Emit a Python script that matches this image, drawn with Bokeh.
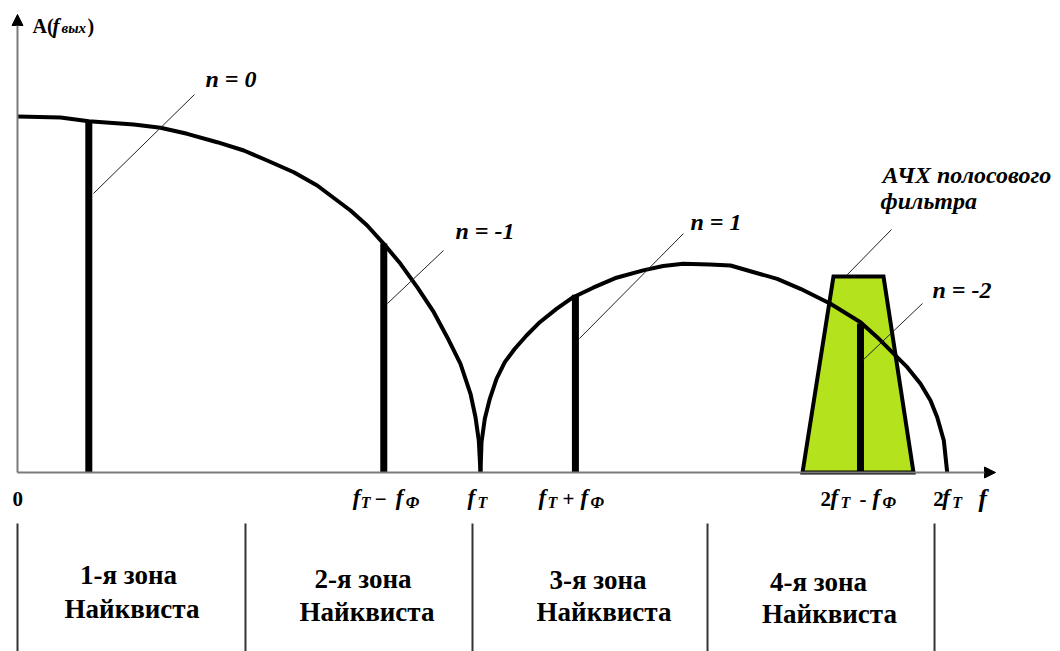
from bokeh.plotting import figure
from bokeh.models import ColumnDataSource, Range1d, Arrow, NormalHead
from bokeh.core.properties import value
from bokeh.embed import file_html
from bokeh.resources import INLINE

# ---------------- data (x in units of fT, y = relative amplitude) ----------------
lobe1_x = [0.0, 0.0929, 0.1540, 0.2512, 0.3089, 0.3665, 0.4313, 0.4888, 0.5393, 0.5968,
           0.6473, 0.7192, 0.7553, 0.7911, 0.8272, 0.8633, 0.8991, 0.9281, 0.9568,
           0.9784, 0.9892, 0.9963, 1.0]
lobe1_y = [1.0, 0.997, 0.9868, 0.9775, 0.9683, 0.9514, 0.9278, 0.9045, 0.8764, 0.8435,
           0.8062, 0.7360, 0.6938, 0.6424, 0.5862, 0.5205, 0.4503, 0.3801, 0.3053,
           0.2211, 0.1553, 0.0899, 0.0]
lobe2_x = [1.0, 1.0022, 1.0093, 1.0201, 1.0346, 1.0525, 1.0741, 1.0994, 1.1281, 1.1641,
           1.2002, 1.2434, 1.2937, 1.3514, 1.3946, 1.4378, 1.4952, 1.5400, 1.5903,
           1.6408, 1.6911, 1.7559, 1.8207, 1.8568, 1.8927, 1.9216, 1.9503, 1.9719,
           1.9864, 2.0007, 2.0080]
lobe2_y = [0.0, 0.0851, 0.1508, 0.2070, 0.2632, 0.3101, 0.3475, 0.3848, 0.4222, 0.4596,
           0.4924, 0.5191, 0.5472, 0.5677, 0.5800, 0.5865, 0.5846, 0.5815, 0.5626,
           0.5441, 0.5160, 0.4739, 0.4222, 0.3801, 0.3334, 0.2958, 0.2492, 0.2022,
           0.1553, 0.0899, 0.0]

bar_x = [0.1540, 0.7911, 1.2050, 1.8207]
bar_top = [0.9868, 0.6430, 0.4992, 0.4185]

filter_x = [1.6955, 1.7624, 1.8704, 1.9352]
filter_y = [0.0, 0.5506, 0.5506, 0.0]

# leader lines (from mark to label)
lead_x0 = [0.1641, 0.7991, 1.2138, 1.7905, 1.8251]
lead_y0 = [0.7837, 0.4747, 0.3764, 0.5534, 0.3146]
lead_x1 = [0.3823, 0.9201, 1.4384, 1.8877, 1.9546]
lead_y1 = [1.0618, 0.6236, 0.6713, 0.6826, 0.4747]

ann_text = ["n = 0", "n = -1", "n = 1", "АЧХ полосового", "фильтра", "n = -2"]
ann_x = [0.4060, 0.9460, 1.4536, 1.8683, 1.8640, 1.9762]
ann_y = [1.0843, 0.6573, 0.6826, 0.8146, 0.7416, 0.4916]

# tick labels, built from pieces: (text, kind, pixel offset from tick)
tick_x = [0.0, 0.7911, 1.0, 1.2050, 1.8207, 2.008]
tick_pieces = [
    [("0", "num", -5)],
    [("f", "f", -31), ("T", "sub", -23), ("−", "op", -9), ("f", "f", 12), ("Ф", "sub", 22)],
    [("f", "f", -13), ("T", "sub", -3)],
    [("f", "f", -37), ("T", "sub", -28), ("+", "op", -13), ("f", "f", 5), ("Ф", "sub", 15)],
    [("2", "num", -40), ("f", "f", -30), ("T", "sub", -20), ("-", "op", -1), ("f", "f", 12), ("Ф", "sub", 22)],
    [("2", "num", -14), ("f", "f", -5), ("T", "sub", 5)],
]
axis_name_x = 2.0756

zone_edges = [0.0, 0.4924, 0.9827, 1.4903, 1.9806]
zone_line1 = ["1-я зона", "2-я зона", "3-я зона", "4-я зона"]
zone_line2 = ["Найквиста", "Найквиста", "Найквиста", "Найквиста"]
zone_x1 = [0.2397, 0.7462, 1.2538, 1.7300]
zone_y1 = [-0.3118, -0.3230, -0.3258, -0.3315]
zone_x2 = [0.2473, 0.7549, 1.2667, 1.7538]
zone_y2 = [-0.4073, -0.4157, -0.4157, -0.4213]

FONT = value("Liberation Serif")
Y_PER_PX = 1.0 / 356.0


def lift(ys, size_px):
    """compensate the renderer's baseline placement (text sits ~0.33em low)"""
    return [y + 0.33 * size_px * Y_PER_PX for y in ys]


p = figure(width=1060, height=651,
           x_range=Range1d(-0.036717, 2.252700), y_range=Range1d(-0.502809, 1.325843),
           output_backend="svg", toolbar_location=None, min_border=0,
           x_axis_location=None, y_axis_location=None)
p.grid.visible = False
p.outline_line_color = None
p.background_fill_color = "white"
p.border_fill_color = "white"

# band-pass filter response
p.patch(filter_x, filter_y, fill_color="#b4e31d", line_color="black", line_width=4,
        line_join="miter")

# axes with arrows
p.add_layout(Arrow(x_start=0, y_start=0, x_end=0, y_end=1.2865, line_color="#7a7a7a",
                   line_width=2, end=NormalHead(size=11, fill_color="black", line_color="black")))
p.add_layout(Arrow(x_start=0, y_start=0, x_end=2.1123, y_end=0, line_color="#7a7a7a",
                   line_width=2, end=NormalHead(size=11, fill_color="black", line_color="black")))

# envelope
p.line(lobe1_x, lobe1_y, line_color="black", line_width=4, line_join="round")
p.line(lobe2_x, lobe2_y, line_color="black", line_width=4, line_join="round")

# spectral lines
p.segment(x0=bar_x, y0=[0] * len(bar_x), x1=bar_x, y1=bar_top, line_color="black",
          line_width=7, line_cap="butt")

# leader lines
p.segment(x0=lead_x0, y0=lead_y0, x1=lead_x1, y1=lead_y1, line_color="#222222", line_width=1)

p.text(x=ann_x, y=lift(ann_y, 24), text=ann_text, text_font=FONT, text_font_size="24px",
       text_font_style="bold italic", text_color="black", text_align="left",
       text_baseline="alphabetic")

# tick labels
it = dict(x=[], y=[], text=[], dx=[], size=[])
up = dict(x=[], y=[], text=[], dx=[], size=[])
for tx, pieces in zip(tick_x, tick_pieces):
    for txt, kind, dx in pieces:
        if kind == "f":
            d, y, s = it, -0.0927, 23
        elif kind == "sub":
            d, y, s = it, -0.0983, 16
        else:
            d, y, s = up, -0.0927, 21
        d["x"].append(tx); d["y"].append(lift([y], s)[0]); d["text"].append(txt)
        d["dx"].append(dx); d["size"].append(f"{s}px")
it["x"].append(axis_name_x); it["y"].append(lift([-0.0955], 25)[0]); it["text"].append("f")
it["dx"].append(0); it["size"].append("25px")

p.text(x="x", y="y", text="text", x_offset="dx", text_font_size="size",
       source=ColumnDataSource(it), text_font=FONT, text_font_style="bold italic",
       text_color="black", text_align="left", text_baseline="alphabetic")
p.text(x="x", y="y", text="text", x_offset="dx", text_font_size="size",
       source=ColumnDataSource(up), text_font=FONT, text_font_style="bold",
       text_color="black", text_align="left", text_baseline="alphabetic")

# y-axis title A(fвых)
ylab_text = ["A(", "f", "вых", ")"]
ylab_dx = [15, 35, 44, 70]
ylab_size = [20, 21, 15, 20]
ylab_style = ["bold", "bold italic", "bold italic", "bold"]
for style in ("bold", "bold italic"):
    sel = [i for i, s in enumerate(ylab_style) if s == style]
    src = ColumnDataSource(dict(
        x=[0] * len(sel),
        y=[lift([1.236], ylab_size[i])[0] for i in sel],
        text=[ylab_text[i] for i in sel],
        dx=[ylab_dx[i] for i in sel],
        size=[f"{ylab_size[i]}px" for i in sel]))
    p.text(x="x", y="y", text="text", x_offset="dx", text_font_size="size", source=src,
           text_font=FONT, text_font_style=style, text_color="black", text_align="left",
           text_baseline="alphabetic")

# Nyquist zones
p.segment(x0=zone_edges, y0=[-0.1433] * len(zone_edges), x1=zone_edges,
          y1=[-0.52] * len(zone_edges), line_color="#333333", line_width=2)
p.text(x=zone_x1, y=lift(zone_y1, 27), text=zone_line1, text_font=FONT, text_font_size="27px",
       text_font_style="bold", text_color="black", text_align="center",
       text_baseline="alphabetic")
p.text(x=zone_x2, y=lift(zone_y2, 27), text=zone_line2, text_font=FONT, text_font_size="27px",
       text_font_style="bold", text_color="black", text_align="center",
       text_baseline="alphabetic")

open("out.html", "w").write(file_html(p, INLINE))
